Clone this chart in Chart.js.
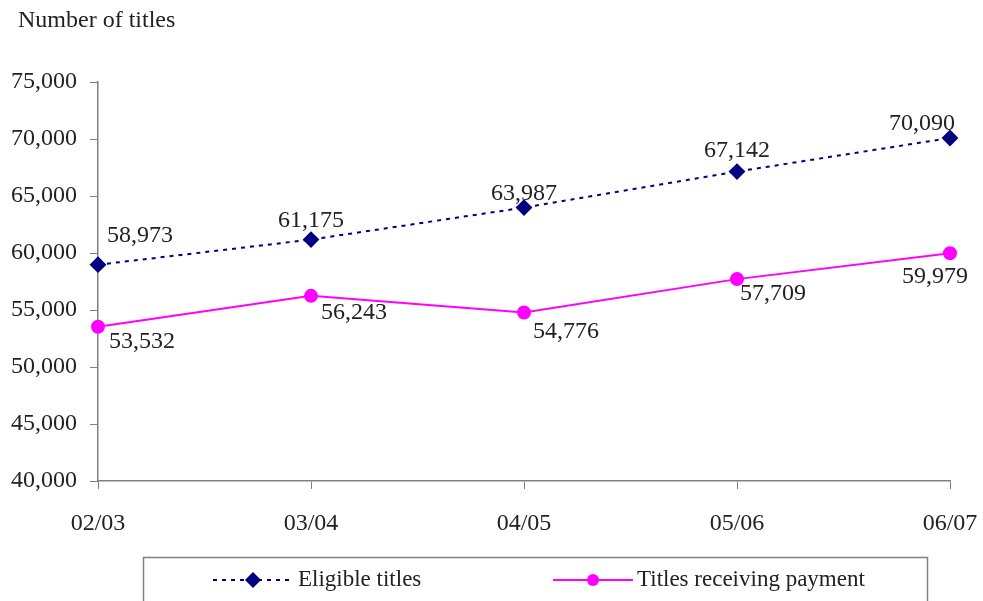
<!DOCTYPE html>
<html>
<head>
<meta charset="utf-8">
<script src="https://cdn.jsdelivr.net/npm/chart.js"></script>
<style>
  body { margin: 0; background: #fff; }
  #wrap { width: 983px; height: 601px; position: relative; }
</style>
</head>
<body>
<div id="wrap"><canvas id="chart1" width="983" height="601"></canvas></div>
<script>
// Years and values
const years = ["02/03", "03/04", "04/05", "05/06", "06/07"];
const eligible = [58973, 61175, 63987, 67142, 70090];
const paid = [53532, 56243, 54776, 57709, 59979];
const yTicks = [40000, 45000, 50000, 55000, 60000, 65000, 70000, 75000];

const FONT = "'Liberation Serif', 'Times New Roman', serif";
const TEXT = "#222";

// value labels, title and the boxed legend are drawn by hand
const extras = {
  id: "extras",
  afterDraw(chart) {
    const ctx = chart.ctx;
    ctx.save();
    ctx.fillStyle = TEXT;
    ctx.font = "24px " + FONT;
    ctx.textAlign = "left";
    ctx.textBaseline = "middle";
    ctx.fillText("Number of titles", 18, 21);

    const fmt = v => v.toLocaleString("en-US");
    ctx.textAlign = "center";
    const offE = [[42, -29], [0, -19], [0, -14], [0, -21], [-28, -14]];
    const offP = [[44, 15], [43, 17], [42, 19], [36, 15], [-15, 23]];
    chart.getDatasetMeta(0).data.forEach((pt, i) => {
      ctx.fillText(fmt(eligible[i]), pt.x + offE[i][0], pt.y + offE[i][1]);
    });
    chart.getDatasetMeta(1).data.forEach((pt, i) => {
      ctx.fillText(fmt(paid[i]), pt.x + offP[i][0], pt.y + offP[i][1]);
    });

    // legend box
    ctx.strokeStyle = "#808080";
    ctx.lineWidth = 1.5;
    ctx.strokeRect(143.5, 557.5, 784, 60);
    const ly = 580;
    ctx.lineWidth = 2;
    ctx.strokeStyle = "#000080";
    ctx.setLineDash([4, 5]);
    ctx.beginPath(); ctx.moveTo(213, ly); ctx.lineTo(292, ly); ctx.stroke();
    ctx.setLineDash([]);
    ctx.fillStyle = "#000080";
    ctx.beginPath();
    ctx.moveTo(253, ly - 8); ctx.lineTo(261, ly); ctx.lineTo(253, ly + 8); ctx.lineTo(245, ly);
    ctx.closePath(); ctx.fill();
    ctx.strokeStyle = "#ff00ff";
    ctx.beginPath(); ctx.moveTo(553, ly); ctx.lineTo(633, ly); ctx.stroke();
    ctx.fillStyle = "#ff00ff";
    ctx.beginPath(); ctx.arc(593, ly, 6, 0, Math.PI * 2); ctx.fill();
    ctx.fillStyle = TEXT;
    ctx.textAlign = "left";
    ctx.font = "23px " + FONT;
    ctx.fillText("Eligible titles", 298, ly);
    ctx.fillText("Titles receiving payment", 637, ly);
    ctx.restore();
  }
};

const ctx = document.getElementById("chart1").getContext("2d");
new Chart(ctx, {
  type: "line",
  data: {
    labels: years,
    datasets: [{
      label: "Eligible titles",
      data: eligible,
      borderColor: "#000080",
      backgroundColor: "#000080",
      borderWidth: 2,
      borderDash: [4, 5],
      pointStyle: "rectRot",
      pointRadius: 7,
      pointHoverRadius: 7,
      fill: false,
      tension: 0,
      clip: false
    }, {
      label: "Titles receiving payment",
      data: paid,
      borderColor: "#ff00ff",
      backgroundColor: "#ff00ff",
      borderWidth: 2,
      pointStyle: "circle",
      pointRadius: 6,
      pointHoverRadius: 6,
      fill: false,
      tension: 0,
      clip: false
    }]
  },
  options: {
    responsive: false,
    animation: false,
    layout: { padding: { top: 82, right: 33, left: 0, bottom: 0 } },
    plugins: {
      legend: { display: false },
      tooltip: { enabled: false }
    },
    scales: {
      x: {
        offset: false,
        grid: { drawOnChartArea: false, drawTicks: true, tickLength: 8, color: "#808080", offset: false },
        border: { display: true, color: "#808080", width: 1.5 },
        ticks: { font: { family: FONT, size: 24 }, color: TEXT, padding: 20, maxRotation: 0 },
        afterFit(scale) {
          scale.height = 120;
          scale.paddingLeft = 0;
          scale.paddingRight = 0;
        }
      },
      y: {
        min: 40000,
        max: 75000,
        afterBuildTicks(scale) { scale.ticks = yTicks.map(v => ({ value: v })); },
        grid: { drawOnChartArea: false, drawTicks: true, tickLength: 8, color: "#808080" },
        border: { display: true, color: "#808080", width: 1.5 },
        ticks: {
          font: { family: FONT, size: 24 },
          color: TEXT,
          padding: 13,
          callback: v => v.toLocaleString("en-US")
        },
        afterFit(scale) { scale.width = 98; }
      }
    }
  },
  plugins: [extras]
});
</script>
</body>
</html>
